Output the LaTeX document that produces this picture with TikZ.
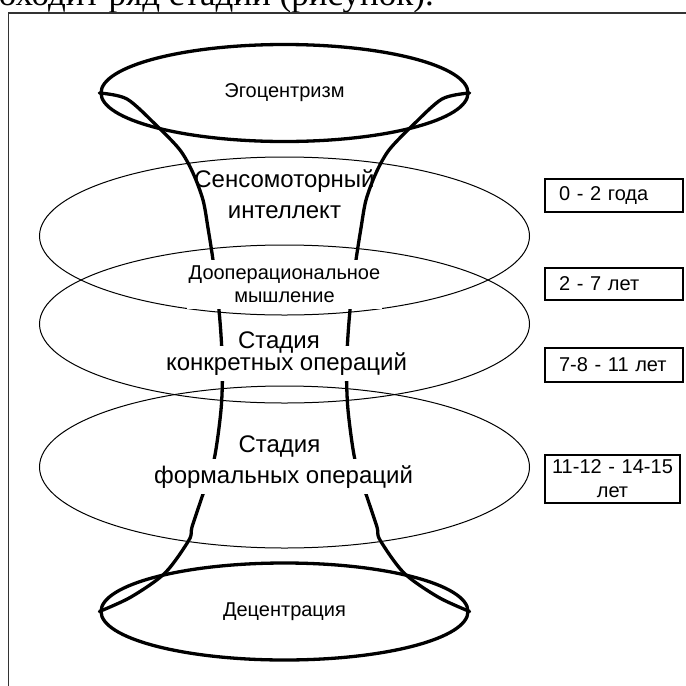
\documentclass[tikz,border=0pt]{standalone}
\usepackage{fontspec}
\setmainfont{Liberation Sans}
\newfontfamily\bodyserif{Liberation Serif}
\usetikzlibrary{shapes.geometric,positioning}

\tikzset{
  rim/.style={ellipse, draw, line width=3.3pt, minimum width=367pt, minimum height=97pt,
    inner sep=0pt, font=\fontsize{20}{24}\selectfont},
  ring/.style={ellipse, draw, line width=1pt, minimum width=490pt, minimum height=158pt, inner sep=0pt},
  funnel/.style={line width=3.3pt, line cap=round},
  stage/.style={fill=white, inner xsep=2pt, inner ysep=6pt, align=center},
  big/.style={font=\fontsize{24}{31}\selectfont},
  agebox/.style={draw, line width=1.2pt, minimum height=33pt, inner xsep=14pt, text width=110pt,
    align=left, font=\fontsize{20}{24}\selectfont}
}

\begin{document}
\begin{tikzpicture}[x=1pt, y=-1pt]
  \useasboundingbox (0,0) rectangle (686,686);
  \clip (0,0) rectangle (686,686);
  % page text and frame
  \node[anchor=base east, inner sep=0pt, font=\bodyserif\fontsize{35}{40}\selectfont] (caption)
    at (434,5) {проходит ряд стадий (рисунок).};
  \draw[black!80, line width=1.2pt] (8.5,686) -- (8.5,13) -- (686,13);

  % stage ellipses
  \node[ring] (ring1) at (284.5,236) {};
  \node[ring] (ring2) at (284.5,324) {};
  \node[ring, minimum height=162pt] (ring3) at (284.5,467) {};

  % top and bottom
  \node[rim] (ego) at (284.5,93) {Эгоцентризм};
  \node[rim] (dec) at (284.5,611.5) {Децентрация};

  % funnel
  \draw[funnel] plot[smooth] coordinates {(ego.west) (127,99) (157,126) (180,150) (193,173)
    (203,200) (208,228) (213,260) (218,300) (221,335) (222.5,370) (221,410) (214,460)
    (202,497) (192,527) (189,540) (165,573) (131,597) (dec.west)};
  \draw[funnel] plot[smooth] coordinates {(ego.east) (442,99) (412,126) (389,150) (376,173)
    (366,200) (361,228) (356,260) (351,300) (348,335) (346.5,370) (348,410) (355,460)
    (367,497) (377,527) (380,540) (404,573) (438,597) (dec.east)};

  % stages
  \node[big, align=center] (senso) at (284.5,194) {Сенсомоторный\\интеллект};
  \node[stage, font=\fontsize{20}{23}\selectfont] (preop) at (284.5,284.5)
    {Дооперациональное\\мышление};
  \node[stage, big, anchor=base] (concr) at (286.5,370) {конкретных операций};
  \node[big, anchor=base] (concrHead) at (279,348) {Стадия};
  \node[stage, big, anchor=base] (formal) at (283.5,483) {формальных операций};
  \node[big, anchor=base] (formalHead) at (279.5,452) {Стадия};

  % ages
  \node[agebox] (age1) at (614,195.5) {0 - 2 года};
  \node[agebox, minimum height=32pt] (age2) at (614,284) {2 - 7 лет};
  \node[agebox, minimum height=34pt] (age3) at (614,365) {7-8 - 11 лет};
  \node[agebox, minimum height=48pt, inner xsep=1pt, text width=133pt, align=center]
    (age4) at (612.5,479) {11-12 - 14-15\\лет};
\end{tikzpicture}
\end{document}
